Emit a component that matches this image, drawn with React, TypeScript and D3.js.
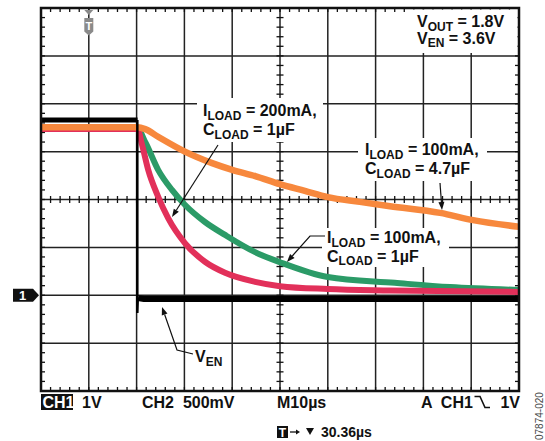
import React from "react";
import * as d3 from "d3";

// ---- data (time in µs across the 10 divisions, CH1 in V, 1 V/div, ground at marker 1) ----
const orangeT = [0, 20.2, 21.8, 24.5, 30.1, 35.8, 40, 44.8, 50, 55.2, 60, 66.7, 73, 83.5, 90.4, 100];
const orangeV = [3.51, 3.51, 3.47, 3.31, 3.0, 2.76, 2.62, 2.49, 2.32, 2.18, 2.05, 1.95, 1.86, 1.72, 1.57, 1.43];

const greenT = [0, 20.2, 21.9, 24.5, 27.4, 30.1, 34.3, 38.5, 44.8, 50, 60, 74, 85.6, 100];
const greenV = [3.47, 3.47, 3.18, 2.62, 2.2, 1.89, 1.53, 1.26, 0.9, 0.69, 0.38, 0.26, 0.17, 0.11];

const redT = [0, 20.2, 21.1, 22.4, 24.5, 26.6, 30.1, 34.3, 38.5, 44.8, 50, 60, 73, 100];
const redV = [3.47, 3.47, 3.16, 2.63, 2.06, 1.61, 1.09, 0.7, 0.47, 0.28, 0.19, 0.13, 0.1, 0.07];

// V_EN trace: high level, the falling edge, and the low level
const blackPreT = [0, 20.2];
const blackPreV = [3.66, 3.66];
const blackEdgeT = [20.15, 20.15, 20.25];
const blackEdgeV = [3.66, -0.37, -0.05];
const blackPostT = [20.3, 21.5, 100];
const blackPostV = [-0.06, -0.08, -0.08];

const majorT = [0, 10, 20, 30, 40, 50, 60, 70, 80, 90, 100];
const majorV = [-2, -1, 0, 1, 2, 3, 4, 5, 6];

const FONT = "'Liberation Sans', Arial, sans-serif";

function zip(t: number[], v: number[]): [number, number][] {
  return t.map((d, i) => [d, v[i]]);
}

function Arrow({ pts, color = "#111" }: { pts: [number, number][]; color?: string }) {
  const n = pts.length;
  const [x1, y1] = pts[n - 2];
  const [x2, y2] = pts[n - 1];
  const ang = Math.atan2(y2 - y1, x2 - x1);
  const L = 8, Wd = 3;
  const bx = x2 - L * Math.cos(ang), by = y2 - L * Math.sin(ang);
  const px = -Math.sin(ang) * Wd, py = Math.cos(ang) * Wd;
  const head = `M${x2},${y2}L${bx + px},${by + py}L${bx - px},${by - py}Z`;
  const path = "M" + pts.slice(0, n - 1).map((p) => p.join(",")).join("L") + `L${bx},${by}`;
  return (
    <g>
      <path d={path} fill="none" stroke={color} strokeWidth={1.2} />
      <path d={head} fill={color} />
    </g>
  );
}

function Label({ x, y, sym, sub, rest }: { x: number; y: number; sym: string; sub: string; rest: string }) {
  return (
    <text x={x} y={y} fontFamily={FONT} fontWeight="bold" fontSize={16} fill="#111">
      {sym}
      <tspan fontSize={12} dy={3.5}>{sub}</tspan>
      <tspan dy={-3.5}>{rest}</tspan>
    </text>
  );
}

export default function App() {
  const x = d3.scaleLinear().domain([0, 100]).range([41, 519]);
  const y = d3.scaleLinear().domain([-2, 6]).range([391, 8]);
  const curve = d3.line<[number, number]>().x((d) => x(d[0])).y((d) => y(d[1])).curve(d3.curveMonotoneX);
  const lin = d3.line<[number, number]>().x((d) => x(d[0])).y((d) => y(d[1]));

  const minorT = d3.range(0, 100.001, 2);
  const minorV = d3.range(-2, 6.001, 0.2);
  const cx = x(50), cy = y(2);

  return (
    <svg width={545} height={441} style={{ position: "absolute", left: 0, top: 0, background: "#fff" }}>
      <rect x={0} y={0} width={545} height={441} fill="#fff" />
      {/* grid */}
      {majorT.map((t) => (
        <line key={"gx" + t} x1={x(t)} x2={x(t)} y1={y(6)} y2={y(-2)} stroke="#222" strokeWidth={1.5} />
      ))}
      {majorV.map((v) => (
        <line key={"gy" + v} x1={x(0)} x2={x(100)} y1={y(v)} y2={y(v)} stroke="#222" strokeWidth={1.5} />
      ))}
      {/* minor ticks */}
      {minorT.map((t, i) => (
        <g key={"mt" + i} stroke="#111" strokeWidth={1.3}>
          <line x1={x(t)} x2={x(t)} y1={y(6)} y2={y(6) + 4} />
          <line x1={x(t)} x2={x(t)} y1={y(-2)} y2={y(-2) - 4} />
          <line x1={x(t)} x2={x(t)} y1={cy - 3.5} y2={cy + 3.5} />
        </g>
      ))}
      {minorV.map((v, i) => (
        <g key={"mv" + i} stroke="#111" strokeWidth={1.3}>
          <line x1={x(0)} x2={x(0) + 4} y1={y(v)} y2={y(v)} />
          <line x1={x(100)} x2={x(100) - 4} y1={y(v)} y2={y(v)} />
          <line x1={cx - 3.5} x2={cx + 3.5} y1={y(v)} y2={y(v)} />
        </g>
      ))}

      {/* label backgrounds */}
      <rect x={406} y={9.5} width={111.5} height={43.5} fill="#fff" />
      <rect x={197} y={98} width={126} height={44} fill="#fff" />
      <rect x={358} y={138} width={129} height={43} fill="#fff" />
      <rect x={322} y={228} width={127} height={39} fill="#fff" />
      <rect x={192} y={346} width={36} height={22} fill="#fff" />

      {/* traces */}
      <path d={curve(zip(greenT, greenV)) || ""} fill="none" stroke="#2B9B67" strokeWidth={6} />
      <path d={curve(zip(redT, redV)) || ""} fill="none" stroke="#E2305A" strokeWidth={6} />
      <path d={curve(zip(orangeT, orangeV)) || ""} fill="none" stroke="#F7883D" strokeWidth={6.5} />
      <path d={lin(zip(blackPreT, blackPreV)) || ""} fill="none" stroke="#000" strokeWidth={5} />
      <path d={lin(zip(blackEdgeT, blackEdgeV)) || ""} fill="none" stroke="#000" strokeWidth={2.5} />
      <path d={lin(zip(blackPostT, blackPostV)) || ""} fill="none" stroke="#000" strokeWidth={6} />

      {/* frame */}
      <rect x={x(0)} y={y(6)} width={x(100) - x(0)} height={y(-2) - y(6)} fill="none" stroke="#111" strokeWidth={2.5} />

      {/* trigger marker */}
      <path d={`M${x(10) - 4.5},10L${x(10) + 4.5},10L${x(10)},15Z`} fill="#8a8a8a" />
      <path d={`M${x(10) - 4.5},18L${x(10) + 4.5},18L${x(10) + 4.5},31.5L${x(10)},35.5L${x(10) - 4.5},31.5Z`} fill="#8a8a8a" />
      <text x={x(10)} y={30} textAnchor="middle" fontFamily={FONT} fontWeight="bold" fontSize={11} fill="#fff">T</text>

      {/* channel 1 ground marker */}
      <path d={`M13,${y(0) - 6.5}L33,${y(0) - 6.5}L39,${y(0)}L33,${y(0) + 6.5}L13,${y(0) + 6.5}Z`} fill="#111" />
      <text x={22.5} y={y(0) + 4.8} textAnchor="middle" fontFamily={FONT} fontWeight="bold" fontSize={13} fill="#fff">1</text>

      {/* annotations */}
      <Label x={417} y={27} sym="V" sub="OUT" rest=" = 1.8V" />
      <Label x={417} y={43.5} sym="V" sub="EN" rest=" = 3.6V" />

      <Label x={203} y={116} sym="I" sub="LOAD" rest=" = 200mA," />
      <Label x={203} y={135} sym="C" sub="LOAD" rest=" = 1µF" />
      <Arrow pts={[[218, 145], [172, 217]]} />

      <Label x={365} y={155} sym="I" sub="LOAD" rest=" = 100mA," />
      <Label x={365} y={174} sym="C" sub="LOAD" rest=" = 4.7µF" />
      <Arrow pts={[[440, 183], [442, 210]]} />

      <Label x={327} y={243} sym="I" sub="LOAD" rest=" = 100mA," />
      <Label x={327} y={261.5} sym="C" sub="LOAD" rest=" = 1µF" />
      <Arrow pts={[[325, 236], [310, 236], [287, 262]]} />

      <Label x={195} y={362} sym="V" sub="EN" rest="" />
      <Arrow pts={[[193, 354], [177, 350], [162, 307]]} />

      {/* bottom readouts */}
      <rect x={41} y={394} width={32} height={16} fill="#111" />
      <text x={42.5} y={408} fontFamily={FONT} fontWeight="bold" fontSize={16} fill="#fff">CH1</text>
      <text x={82} y={408} fontFamily={FONT} fontWeight="bold" fontSize={16} fill="#111">1V</text>
      <text x={142} y={408} fontFamily={FONT} fontWeight="bold" fontSize={16} fill="#111" xmlSpace="preserve">CH2  500mV</text>
      <text x={277} y={408} fontFamily={FONT} fontWeight="bold" fontSize={16} fill="#111">M10µs</text>
      <text x={421} y={408} fontFamily={FONT} fontWeight="bold" fontSize={16} fill="#111" xmlSpace="preserve">A  CH1</text>
      <path d="M474.5,396.5L480,396.5L485,407.5L490,407.5" fill="none" stroke="#111" strokeWidth={1.6} />
      <text x={520} y={408} textAnchor="end" fontFamily={FONT} fontWeight="bold" fontSize={16} fill="#111">1V</text>

      <rect x={277} y={426} width={11} height={12} fill="#111" />
      <text x={282.5} y={436.5} textAnchor="middle" fontFamily={FONT} fontWeight="bold" fontSize={12} fill="#fff">T</text>
      <path d="M290,432L297,432" stroke="#111" strokeWidth={1.3} />
      <path d="M300,432L296,429.5L296,434.5Z" fill="#111" />
      <path d="M306,428L314,428L310,435Z" fill="#111" />
      <text x={321} y={437} fontFamily={FONT} fontWeight="bold" fontSize={14} fill="#111">30.36µs</text>

      <text transform="translate(543,440) rotate(-90)" fontFamily={FONT} fontSize={10} fill="#444">07874-020</text>
    </svg>
  );
}
